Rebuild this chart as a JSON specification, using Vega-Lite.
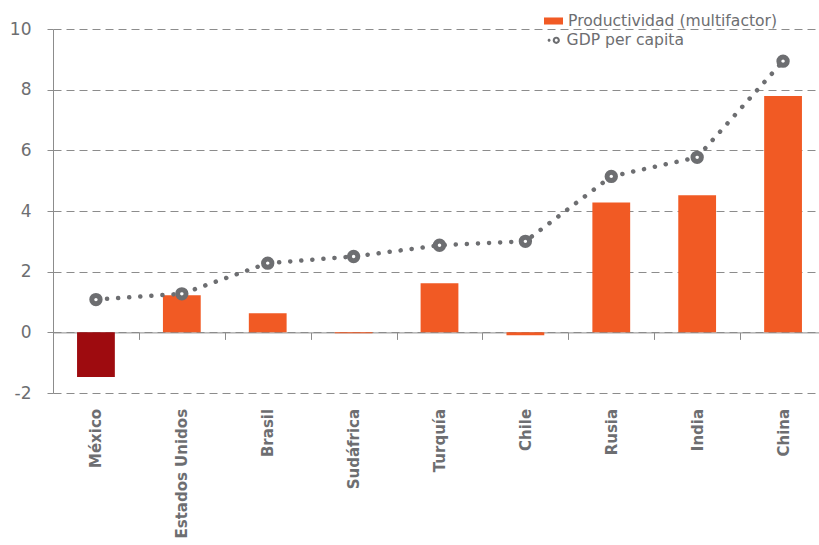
{
  "$schema": "https://vega.github.io/schema/vega-lite/v6.json",
  "autosize": {"type": "none"},
  "width": 766,
  "height": 364,
  "padding": {"left": 53, "top": 29, "right": 0, "bottom": 152},
  "background": "white",
  "config": {
    "font": "DejaVu Sans",
    "view": {"stroke": null},
    "legend": {"labelFont": "DejaVu Sans", "labelFontSize": 15.6, "labelColor": "#6D6E71", "labelLimit": 400, "padding": 0, "title": null}
  },
  "data": {
    "values": [
      {"pais": "México", "productividad": -1.47, "gdp": 1.08},
      {"pais": "Estados Unidos", "productividad": 1.22, "gdp": 1.27},
      {"pais": "Brasil", "productividad": 0.63, "gdp": 2.28},
      {"pais": "Sudáfrica", "productividad": -0.03, "gdp": 2.5},
      {"pais": "Turquía", "productividad": 1.62, "gdp": 2.87},
      {"pais": "Chile", "productividad": -0.1, "gdp": 3.0},
      {"pais": "Rusia", "productividad": 4.28, "gdp": 5.14},
      {"pais": "India", "productividad": 4.52, "gdp": 5.77},
      {"pais": "China", "productividad": 7.79, "gdp": 8.94}
    ]
  },
  "encoding": {
    "x": {
      "field": "pais", "type": "nominal", "sort": null,
      "scale": {"range": [0, 773], "paddingInner": 0, "paddingOuter": 0},
      "axis": {
        "title": null, "offset": -60.6, "tickBand": "extent", "tickSize": 7,
        "domainColor": "#8C8C8C", "tickColor": "#8C8C8C",
        "labelAngle": -90, "labelFont": "DejaVu Sans", "labelFontSize": 15, "labelFontWeight": "bold",
        "labelColor": "#6D6E71", "labelPadding": 69, "labelLimit": 300, "grid": false
      }
    }
  },
  "layer": [
    {
      "mark": {"type": "bar", "width": {"band": 0.44}},
      "encoding": {
        "y": {
          "field": "productividad", "type": "quantitative",
          "scale": {"domain": [-2, 10], "nice": false, "zero": false},
          "axis": {
            "title": null, "values": [-2, 0, 2, 4, 6, 8, 10], "labelExpr": "datum.value",
            "domainColor": "#8C8C8C", "tickColor": "#8C8C8C", "tickSize": 6,
            "labelFont": "DejaVu Sans", "labelFontSize": 17, "labelColor": "#6D6E71", "labelPadding": 16,
            "grid": true, "gridColor": "#8C8C8C", "gridDash": [8, 5], "gridWidth": 1
          }
        },
        "fill": {
          "condition": {"test": "datum.pais === 'México'", "value": "#9E0B0F"},
          "datum": "Productividad (multifactor)",
          "scale": {"range": ["#F15A24"]},
          "legend": {
            "orient": "none", "legendX": 491, "legendY": -17.5,
            "symbolType": "M-1,-0.37H1V0.37H-1Z", "symbolSize": 361, "labelOffset": 5,
            "symbolStrokeWidth": 0
          }
        }
      }
    },
    {
      "mark": {"type": "line", "strokeWidth": 4.5, "strokeDash": [0.1, 11], "strokeCap": "round"},
      "encoding": {
        "y": {"field": "gdp", "type": "quantitative"},
        "stroke": {
          "datum": "GDP per capita",
          "scale": {"range": ["#6D6E71"]},
          "legend": {
            "orient": "none", "legendX": 492.5, "legendY": 3.5,
            "symbolType": "M-0.45,0A0.25,0.25 0 1,1 -0.95,0A0.25,0.25 0 1,1 -0.45,0ZM1.1,0A0.6,0.6 0 1,1 -0.1,0A0.6,0.6 0 1,1 1.1,0ZM0.75,0A0.25,0.25 0 1,0 0.25,0A0.25,0.25 0 1,0 0.75,0Z",
            "symbolSize": 144, "labelOffset": 5.5,
            "encode": {"symbols": {"update": {"fill": {"value": "#6D6E71"}, "strokeWidth": {"value": 0}, "opacity": {"value": 1}}}}
          }
        }
      }
    },
    {
      "mark": {"type": "point", "filled": false, "fill": "white", "strokeWidth": 5, "size": 70, "opacity": 1},
      "encoding": {
        "y": {"field": "gdp", "type": "quantitative"},
        "stroke": {"datum": "GDP per capita"}
      }
    }
  ]
}
